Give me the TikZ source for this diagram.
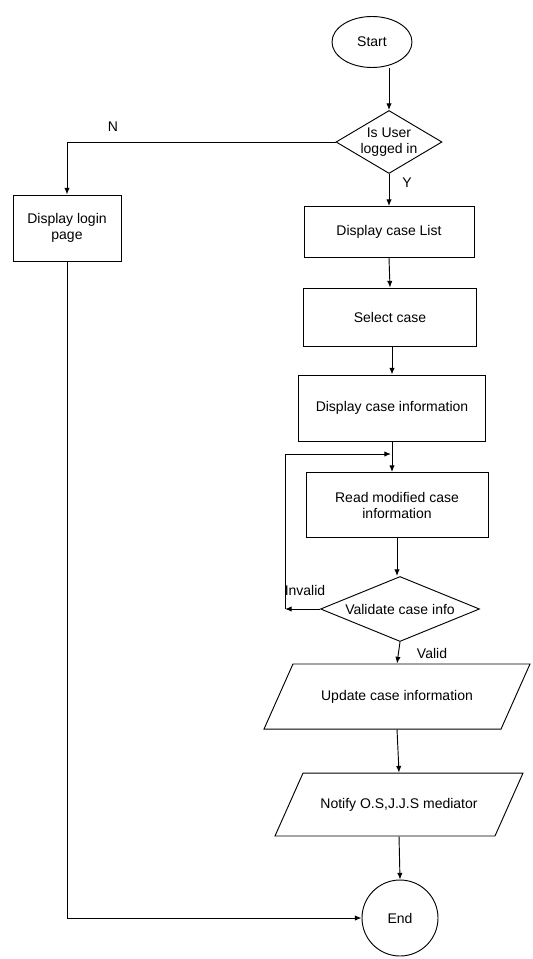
\documentclass[tikz,border=0pt]{standalone}
\usepackage{fontspec}
\setmainfont{Liberation Sans}
\usetikzlibrary{shapes.geometric,arrows.meta}

\begin{document}
\begin{tikzpicture}[x=0.75pt,y=-0.75pt,
    font=\fontsize{10.5pt}{12pt}\selectfont,
    box/.style={draw, line width=0.7pt, align=center, inner sep=2pt},
    decide/.style={draw, diamond, line width=0.7pt, align=center, inner sep=0pt},
    io/.style={draw, trapezium, trapezium left angle=66, trapezium right angle=114,
      trapezium stretches body=true, text height=8pt, text depth=2pt,
      line width=0.7pt, align=center},
    arr/.style={line width=0.7pt, -{Latex[length=5pt,width=4pt]}}]
  \useasboundingbox (0,0) rectangle (532,959);
  % main column
  \node[draw, ellipse, line width=0.7pt, minimum width=60pt, minimum height=38.25pt] (start) at (372,42) {Start};
  \node[decide, aspect=1.68, minimum width=79.5pt, minimum height=47.25pt] (user) at (389,142) {Is User\\logged in};
  \node[box, minimum width=81pt, minimum height=49.5pt] (login) at (67,228) {Display login\\page};
  \node[box, minimum width=127.5pt, minimum height=38.25pt] (list) at (389,232) {Display case List};
  \node[box, minimum width=129.75pt, minimum height=43.5pt] (select) at (390,317) {Select case};
  \node[box, minimum width=140.25pt, minimum height=49.5pt] (info) at (392,408) {Display case information};
  \node[box, minimum width=136.5pt, minimum height=48.75pt] (read) at (397,505) {Read modified case\\information};
  \node[decide, aspect=2.45, minimum width=119.25pt, minimum height=48.75pt] (val) at (400,609) {Validate case info};
  \node[io, inner ysep=19.4pt, minimum width=199.5pt] (update) at (397,696.5) {Update case information};
  \node[io, inner ysep=18.6pt, minimum width=186pt] (notify) at (399,804.5) {Notify O.S,J.J.S mediator};
  \node[draw, circle, line width=0.7pt, minimum size=57pt] (end) at (400,918) {End};
  % labels
  \node (nlab) at (113,127) {N};
  \node (ylab) at (407,183) {Y};
  \node (invlab) at (305,590) {Invalid};
  \node (vlab) at (432,653) {Valid};
  % loop points
  \coordinate (loop) at (285,609);
  \coordinate (join) at (391,454);
  % connectors
  \draw[arr] (user.north |- start.south) -- (user.north);
  \draw[arr] (user.south) -- (list.north);
  \draw[arr] (user.west) -| (login.north);
  \draw[arr] (list.south) -- (select.north);
  \draw[arr] (info.north |- select.south) -- (info.north);
  \draw[arr] (info.south) -- (info.south |- read.north);
  \draw[arr] (val.west) -- (loop);
  \draw[arr] (loop) |- (join);
  \draw[arr] (read.south) -- (read.south |- val.north);
  \draw[arr] (val.south) -- (update.north);
  \draw[arr] (update.south) -- (notify.north);
  \draw[arr] (notify.south) -- (end.north);
  \draw[arr] (login.south) |- (end.west);
\end{tikzpicture}
\end{document}
